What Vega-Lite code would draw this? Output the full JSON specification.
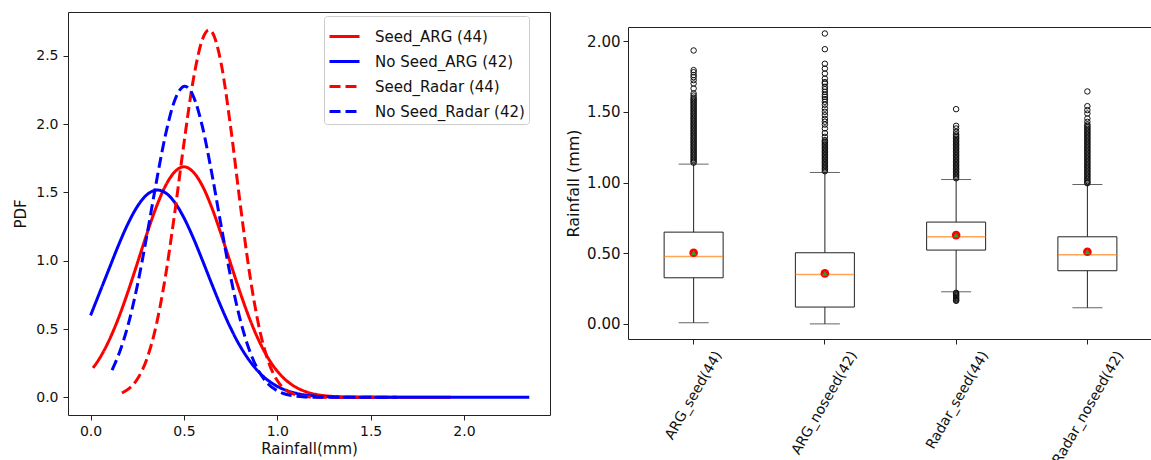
{
  "$schema": "https://vega.github.io/schema/vega-lite/v6.json",
  "padding": {"left": 13, "top": 11, "right": -1, "bottom": 0},
  "config": {
    "font": "DejaVu Sans",
    "view": {"stroke": "#222", "strokeWidth": 1},
    "axis": {"grid": false, "domain": false, "tickColor": "#222", "tickSize": 5, "labelColor": "#111", "titleColor": "#111", "titleFontWeight": "normal", "labelFont": "DejaVu Sans", "titleFont": "DejaVu Sans"}
  },
  "datasets": {
    "pdf": [
      {"s": "Seed_ARG (44)", "x": 0.013, "y": 0.215}, {"s": "Seed_ARG (44)", "x": 0.05, "y": 0.29}, {"s": "Seed_ARG (44)", "x": 0.1, "y": 0.42}, {"s": "Seed_ARG (44)", "x": 0.15, "y": 0.582}, {"s": "Seed_ARG (44)", "x": 0.2, "y": 0.772}, {"s": "Seed_ARG (44)", "x": 0.25, "y": 0.98}, {"s": "Seed_ARG (44)", "x": 0.3, "y": 1.191}, {"s": "Seed_ARG (44)", "x": 0.35, "y": 1.386}, {"s": "Seed_ARG (44)", "x": 0.4, "y": 1.545}, {"s": "Seed_ARG (44)", "x": 0.45, "y": 1.649}, {"s": "Seed_ARG (44)", "x": 0.5, "y": 1.687}, {"s": "Seed_ARG (44)", "x": 0.55, "y": 1.649}, {"s": "Seed_ARG (44)", "x": 0.6, "y": 1.545}, {"s": "Seed_ARG (44)", "x": 0.65, "y": 1.386}, {"s": "Seed_ARG (44)", "x": 0.7, "y": 1.191}, {"s": "Seed_ARG (44)", "x": 0.75, "y": 0.98}, {"s": "Seed_ARG (44)", "x": 0.8, "y": 0.772}, {"s": "Seed_ARG (44)", "x": 0.85, "y": 0.582}, {"s": "Seed_ARG (44)", "x": 0.9, "y": 0.42}, {"s": "Seed_ARG (44)", "x": 0.95, "y": 0.29}, {"s": "Seed_ARG (44)", "x": 1.0, "y": 0.192}, {"s": "Seed_ARG (44)", "x": 1.05, "y": 0.122}, {"s": "Seed_ARG (44)", "x": 1.1, "y": 0.074}, {"s": "Seed_ARG (44)", "x": 1.15, "y": 0.043}, {"s": "Seed_ARG (44)", "x": 1.2, "y": 0.024}, {"s": "Seed_ARG (44)", "x": 1.3, "y": 0.0065}, {"s": "Seed_ARG (44)", "x": 1.4, "y": 0.0015}, {"s": "Seed_ARG (44)", "x": 1.5, "y": 0.0002}, {"s": "Seed_ARG (44)", "x": 1.7, "y": 0}, {"s": "Seed_ARG (44)", "x": 1.93, "y": 0},
      {"s": "No Seed_ARG (42)", "x": 0.0, "y": 0.6}, {"s": "No Seed_ARG (42)", "x": 0.05, "y": 0.772}, {"s": "No Seed_ARG (42)", "x": 0.1, "y": 0.944}, {"s": "No Seed_ARG (42)", "x": 0.15, "y": 1.115}, {"s": "No Seed_ARG (42)", "x": 0.2, "y": 1.27}, {"s": "No Seed_ARG (42)", "x": 0.25, "y": 1.396}, {"s": "No Seed_ARG (42)", "x": 0.3, "y": 1.481}, {"s": "No Seed_ARG (42)", "x": 0.358, "y": 1.517}, {"s": "No Seed_ARG (42)", "x": 0.4, "y": 1.498}, {"s": "No Seed_ARG (42)", "x": 0.45, "y": 1.428}, {"s": "No Seed_ARG (42)", "x": 0.5, "y": 1.314}, {"s": "No Seed_ARG (42)", "x": 0.55, "y": 1.167}, {"s": "No Seed_ARG (42)", "x": 0.6, "y": 1.0}, {"s": "No Seed_ARG (42)", "x": 0.65, "y": 0.827}, {"s": "No Seed_ARG (42)", "x": 0.7, "y": 0.66}, {"s": "No Seed_ARG (42)", "x": 0.75, "y": 0.508}, {"s": "No Seed_ARG (42)", "x": 0.8, "y": 0.377}, {"s": "No Seed_ARG (42)", "x": 0.85, "y": 0.271}, {"s": "No Seed_ARG (42)", "x": 0.9, "y": 0.187}, {"s": "No Seed_ARG (42)", "x": 0.95, "y": 0.125}, {"s": "No Seed_ARG (42)", "x": 1.0, "y": 0.0806}, {"s": "No Seed_ARG (42)", "x": 1.05, "y": 0.0502}, {"s": "No Seed_ARG (42)", "x": 1.1, "y": 0.0301}, {"s": "No Seed_ARG (42)", "x": 1.15, "y": 0.0174}, {"s": "No Seed_ARG (42)", "x": 1.2, "y": 0.0097}, {"s": "No Seed_ARG (42)", "x": 1.3, "y": 0.0027}, {"s": "No Seed_ARG (42)", "x": 1.4, "y": 0.0007}, {"s": "No Seed_ARG (42)", "x": 1.5, "y": 0.0001}, {"s": "No Seed_ARG (42)", "x": 1.75, "y": 0}, {"s": "No Seed_ARG (42)", "x": 2.0, "y": 0}, {"s": "No Seed_ARG (42)", "x": 2.35, "y": 0},
      {"s": "Seed_Radar (44)", "x": 0.168, "y": 0.032}, {"s": "Seed_Radar (44)", "x": 0.2, "y": 0.058}, {"s": "Seed_Radar (44)", "x": 0.25, "y": 0.133}, {"s": "Seed_Radar (44)", "x": 0.3, "y": 0.276}, {"s": "Seed_Radar (44)", "x": 0.35, "y": 0.518}, {"s": "Seed_Radar (44)", "x": 0.4, "y": 0.877}, {"s": "Seed_Radar (44)", "x": 0.45, "y": 1.343}, {"s": "Seed_Radar (44)", "x": 0.5, "y": 1.858}, {"s": "Seed_Radar (44)", "x": 0.55, "y": 2.323}, {"s": "Seed_Radar (44)", "x": 0.6, "y": 2.623}, {"s": "Seed_Radar (44)", "x": 0.635, "y": 2.689}, {"s": "Seed_Radar (44)", "x": 0.65, "y": 2.675}, {"s": "Seed_Radar (44)", "x": 0.7, "y": 2.439}, {"s": "Seed_Radar (44)", "x": 0.75, "y": 1.98}, {"s": "Seed_Radar (44)", "x": 0.8, "y": 1.432}, {"s": "Seed_Radar (44)", "x": 0.85, "y": 0.923}, {"s": "Seed_Radar (44)", "x": 0.9, "y": 0.53}, {"s": "Seed_Radar (44)", "x": 0.95, "y": 0.271}, {"s": "Seed_Radar (44)", "x": 1.0, "y": 0.123}, {"s": "Seed_Radar (44)", "x": 1.05, "y": 0.05}, {"s": "Seed_Radar (44)", "x": 1.1, "y": 0.018}, {"s": "Seed_Radar (44)", "x": 1.15, "y": 0.0058}, {"s": "Seed_Radar (44)", "x": 1.2, "y": 0.0017}, {"s": "Seed_Radar (44)", "x": 1.3, "y": 0.0001}, {"s": "Seed_Radar (44)", "x": 1.4, "y": 0}, {"s": "Seed_Radar (44)", "x": 1.52, "y": 0},
      {"s": "No Seed_Radar (42)", "x": 0.115, "y": 0.2}, {"s": "No Seed_Radar (42)", "x": 0.15, "y": 0.312}, {"s": "No Seed_Radar (42)", "x": 0.2, "y": 0.525}, {"s": "No Seed_Radar (42)", "x": 0.25, "y": 0.816}, {"s": "No Seed_Radar (42)", "x": 0.3, "y": 1.173}, {"s": "No Seed_Radar (42)", "x": 0.35, "y": 1.559}, {"s": "No Seed_Radar (42)", "x": 0.4, "y": 1.913}, {"s": "No Seed_Radar (42)", "x": 0.45, "y": 2.171}, {"s": "No Seed_Radar (42)", "x": 0.505, "y": 2.277}, {"s": "No Seed_Radar (42)", "x": 0.55, "y": 2.205}, {"s": "No Seed_Radar (42)", "x": 0.6, "y": 1.975}, {"s": "No Seed_Radar (42)", "x": 0.65, "y": 1.634}, {"s": "No Seed_Radar (42)", "x": 0.7, "y": 1.25}, {"s": "No Seed_Radar (42)", "x": 0.75, "y": 0.883}, {"s": "No Seed_Radar (42)", "x": 0.8, "y": 0.577}, {"s": "No Seed_Radar (42)", "x": 0.85, "y": 0.348}, {"s": "No Seed_Radar (42)", "x": 0.9, "y": 0.194}, {"s": "No Seed_Radar (42)", "x": 0.95, "y": 0.1}, {"s": "No Seed_Radar (42)", "x": 1.0, "y": 0.048}, {"s": "No Seed_Radar (42)", "x": 1.05, "y": 0.021}, {"s": "No Seed_Radar (42)", "x": 1.1, "y": 0.0085}, {"s": "No Seed_Radar (42)", "x": 1.15, "y": 0.0032}, {"s": "No Seed_Radar (42)", "x": 1.2, "y": 0.0011}, {"s": "No Seed_Radar (42)", "x": 1.3, "y": 0.0001}, {"s": "No Seed_Radar (42)", "x": 1.45, "y": 0}, {"s": "No Seed_Radar (42)", "x": 1.64, "y": 0}
    ],
    "box": [
      {"cat": "ARG_seed(44)", "lower": 0.008, "q1": 0.326, "median": 0.477, "q3": 0.649, "upper": 1.13, "mean": 0.503},
      {"cat": "ARG_noseed(42)", "lower": 0.0, "q1": 0.119, "median": 0.35, "q3": 0.503, "upper": 1.071, "mean": 0.357},
      {"cat": "Radar_seed(44)", "lower": 0.227, "q1": 0.522, "median": 0.616, "q3": 0.72, "upper": 1.021, "mean": 0.628},
      {"cat": "Radar_noseed(42)", "lower": 0.114, "q1": 0.376, "median": 0.489, "q3": 0.616, "upper": 0.986, "mean": 0.51}
    ],
    "out": [
      {"cat": "ARG_seed(44)", "v": 1.14}, {"cat": "ARG_seed(44)", "v": 1.15}, {"cat": "ARG_seed(44)", "v": 1.16}, {"cat": "ARG_seed(44)", "v": 1.17}, {"cat": "ARG_seed(44)", "v": 1.18}, {"cat": "ARG_seed(44)", "v": 1.19}, {"cat": "ARG_seed(44)", "v": 1.2}, {"cat": "ARG_seed(44)", "v": 1.21}, {"cat": "ARG_seed(44)", "v": 1.22}, {"cat": "ARG_seed(44)", "v": 1.23}, {"cat": "ARG_seed(44)", "v": 1.24}, {"cat": "ARG_seed(44)", "v": 1.25}, {"cat": "ARG_seed(44)", "v": 1.26}, {"cat": "ARG_seed(44)", "v": 1.27}, {"cat": "ARG_seed(44)", "v": 1.28}, {"cat": "ARG_seed(44)", "v": 1.29}, {"cat": "ARG_seed(44)", "v": 1.3}, {"cat": "ARG_seed(44)", "v": 1.31}, {"cat": "ARG_seed(44)", "v": 1.32}, {"cat": "ARG_seed(44)", "v": 1.33}, {"cat": "ARG_seed(44)", "v": 1.34}, {"cat": "ARG_seed(44)", "v": 1.35}, {"cat": "ARG_seed(44)", "v": 1.36}, {"cat": "ARG_seed(44)", "v": 1.37}, {"cat": "ARG_seed(44)", "v": 1.38}, {"cat": "ARG_seed(44)", "v": 1.39}, {"cat": "ARG_seed(44)", "v": 1.4}, {"cat": "ARG_seed(44)", "v": 1.41}, {"cat": "ARG_seed(44)", "v": 1.42}, {"cat": "ARG_seed(44)", "v": 1.43}, {"cat": "ARG_seed(44)", "v": 1.44}, {"cat": "ARG_seed(44)", "v": 1.45}, {"cat": "ARG_seed(44)", "v": 1.46}, {"cat": "ARG_seed(44)", "v": 1.47}, {"cat": "ARG_seed(44)", "v": 1.48}, {"cat": "ARG_seed(44)", "v": 1.49}, {"cat": "ARG_seed(44)", "v": 1.5}, {"cat": "ARG_seed(44)", "v": 1.51}, {"cat": "ARG_seed(44)", "v": 1.52}, {"cat": "ARG_seed(44)", "v": 1.53}, {"cat": "ARG_seed(44)", "v": 1.54}, {"cat": "ARG_seed(44)", "v": 1.55}, {"cat": "ARG_seed(44)", "v": 1.56}, {"cat": "ARG_seed(44)", "v": 1.57}, {"cat": "ARG_seed(44)", "v": 1.58}, {"cat": "ARG_seed(44)", "v": 1.59}, {"cat": "ARG_seed(44)", "v": 1.6}, {"cat": "ARG_seed(44)", "v": 1.615}, {"cat": "ARG_seed(44)", "v": 1.63}, {"cat": "ARG_seed(44)", "v": 1.665}, {"cat": "ARG_seed(44)", "v": 1.7}, {"cat": "ARG_seed(44)", "v": 1.724}, {"cat": "ARG_seed(44)", "v": 1.745}, {"cat": "ARG_seed(44)", "v": 1.76}, {"cat": "ARG_seed(44)", "v": 1.78}, {"cat": "ARG_seed(44)", "v": 1.795}, {"cat": "ARG_seed(44)", "v": 1.934},
      {"cat": "ARG_noseed(42)", "v": 1.08}, {"cat": "ARG_noseed(42)", "v": 1.09}, {"cat": "ARG_noseed(42)", "v": 1.1}, {"cat": "ARG_noseed(42)", "v": 1.11}, {"cat": "ARG_noseed(42)", "v": 1.12}, {"cat": "ARG_noseed(42)", "v": 1.13}, {"cat": "ARG_noseed(42)", "v": 1.14}, {"cat": "ARG_noseed(42)", "v": 1.15}, {"cat": "ARG_noseed(42)", "v": 1.16}, {"cat": "ARG_noseed(42)", "v": 1.17}, {"cat": "ARG_noseed(42)", "v": 1.18}, {"cat": "ARG_noseed(42)", "v": 1.19}, {"cat": "ARG_noseed(42)", "v": 1.2}, {"cat": "ARG_noseed(42)", "v": 1.21}, {"cat": "ARG_noseed(42)", "v": 1.22}, {"cat": "ARG_noseed(42)", "v": 1.23}, {"cat": "ARG_noseed(42)", "v": 1.24}, {"cat": "ARG_noseed(42)", "v": 1.25}, {"cat": "ARG_noseed(42)", "v": 1.26}, {"cat": "ARG_noseed(42)", "v": 1.27}, {"cat": "ARG_noseed(42)", "v": 1.28}, {"cat": "ARG_noseed(42)", "v": 1.29}, {"cat": "ARG_noseed(42)", "v": 1.3}, {"cat": "ARG_noseed(42)", "v": 1.323}, {"cat": "ARG_noseed(42)", "v": 1.35}, {"cat": "ARG_noseed(42)", "v": 1.382}, {"cat": "ARG_noseed(42)", "v": 1.41}, {"cat": "ARG_noseed(42)", "v": 1.43}, {"cat": "ARG_noseed(42)", "v": 1.45}, {"cat": "ARG_noseed(42)", "v": 1.476}, {"cat": "ARG_noseed(42)", "v": 1.5}, {"cat": "ARG_noseed(42)", "v": 1.523}, {"cat": "ARG_noseed(42)", "v": 1.55}, {"cat": "ARG_noseed(42)", "v": 1.571}, {"cat": "ARG_noseed(42)", "v": 1.59}, {"cat": "ARG_noseed(42)", "v": 1.606}, {"cat": "ARG_noseed(42)", "v": 1.62}, {"cat": "ARG_noseed(42)", "v": 1.641}, {"cat": "ARG_noseed(42)", "v": 1.66}, {"cat": "ARG_noseed(42)", "v": 1.677}, {"cat": "ARG_noseed(42)", "v": 1.7}, {"cat": "ARG_noseed(42)", "v": 1.71}, {"cat": "ARG_noseed(42)", "v": 1.735}, {"cat": "ARG_noseed(42)", "v": 1.771}, {"cat": "ARG_noseed(42)", "v": 1.806}, {"cat": "ARG_noseed(42)", "v": 1.84}, {"cat": "ARG_noseed(42)", "v": 1.943}, {"cat": "ARG_noseed(42)", "v": 2.054},
      {"cat": "Radar_seed(44)", "v": 1.03}, {"cat": "Radar_seed(44)", "v": 1.04}, {"cat": "Radar_seed(44)", "v": 1.05}, {"cat": "Radar_seed(44)", "v": 1.06}, {"cat": "Radar_seed(44)", "v": 1.07}, {"cat": "Radar_seed(44)", "v": 1.08}, {"cat": "Radar_seed(44)", "v": 1.09}, {"cat": "Radar_seed(44)", "v": 1.1}, {"cat": "Radar_seed(44)", "v": 1.11}, {"cat": "Radar_seed(44)", "v": 1.12}, {"cat": "Radar_seed(44)", "v": 1.13}, {"cat": "Radar_seed(44)", "v": 1.14}, {"cat": "Radar_seed(44)", "v": 1.15}, {"cat": "Radar_seed(44)", "v": 1.16}, {"cat": "Radar_seed(44)", "v": 1.17}, {"cat": "Radar_seed(44)", "v": 1.18}, {"cat": "Radar_seed(44)", "v": 1.19}, {"cat": "Radar_seed(44)", "v": 1.2}, {"cat": "Radar_seed(44)", "v": 1.21}, {"cat": "Radar_seed(44)", "v": 1.22}, {"cat": "Radar_seed(44)", "v": 1.23}, {"cat": "Radar_seed(44)", "v": 1.24}, {"cat": "Radar_seed(44)", "v": 1.25}, {"cat": "Radar_seed(44)", "v": 1.26}, {"cat": "Radar_seed(44)", "v": 1.27}, {"cat": "Radar_seed(44)", "v": 1.28}, {"cat": "Radar_seed(44)", "v": 1.29}, {"cat": "Radar_seed(44)", "v": 1.3}, {"cat": "Radar_seed(44)", "v": 1.31}, {"cat": "Radar_seed(44)", "v": 1.32}, {"cat": "Radar_seed(44)", "v": 1.33}, {"cat": "Radar_seed(44)", "v": 1.34}, {"cat": "Radar_seed(44)", "v": 1.358}, {"cat": "Radar_seed(44)", "v": 1.382}, {"cat": "Radar_seed(44)", "v": 1.401}, {"cat": "Radar_seed(44)", "v": 1.519}, {"cat": "Radar_seed(44)", "v": 0.22}, {"cat": "Radar_seed(44)", "v": 0.213}, {"cat": "Radar_seed(44)", "v": 0.205}, {"cat": "Radar_seed(44)", "v": 0.198}, {"cat": "Radar_seed(44)", "v": 0.19}, {"cat": "Radar_seed(44)", "v": 0.183}, {"cat": "Radar_seed(44)", "v": 0.175}, {"cat": "Radar_seed(44)", "v": 0.168}, {"cat": "Radar_seed(44)", "v": 0.163},
      {"cat": "Radar_noseed(42)", "v": 0.995}, {"cat": "Radar_noseed(42)", "v": 1.0}, {"cat": "Radar_noseed(42)", "v": 1.01}, {"cat": "Radar_noseed(42)", "v": 1.02}, {"cat": "Radar_noseed(42)", "v": 1.03}, {"cat": "Radar_noseed(42)", "v": 1.04}, {"cat": "Radar_noseed(42)", "v": 1.05}, {"cat": "Radar_noseed(42)", "v": 1.06}, {"cat": "Radar_noseed(42)", "v": 1.07}, {"cat": "Radar_noseed(42)", "v": 1.08}, {"cat": "Radar_noseed(42)", "v": 1.09}, {"cat": "Radar_noseed(42)", "v": 1.1}, {"cat": "Radar_noseed(42)", "v": 1.11}, {"cat": "Radar_noseed(42)", "v": 1.12}, {"cat": "Radar_noseed(42)", "v": 1.13}, {"cat": "Radar_noseed(42)", "v": 1.14}, {"cat": "Radar_noseed(42)", "v": 1.15}, {"cat": "Radar_noseed(42)", "v": 1.16}, {"cat": "Radar_noseed(42)", "v": 1.17}, {"cat": "Radar_noseed(42)", "v": 1.18}, {"cat": "Radar_noseed(42)", "v": 1.19}, {"cat": "Radar_noseed(42)", "v": 1.2}, {"cat": "Radar_noseed(42)", "v": 1.21}, {"cat": "Radar_noseed(42)", "v": 1.22}, {"cat": "Radar_noseed(42)", "v": 1.23}, {"cat": "Radar_noseed(42)", "v": 1.24}, {"cat": "Radar_noseed(42)", "v": 1.25}, {"cat": "Radar_noseed(42)", "v": 1.26}, {"cat": "Radar_noseed(42)", "v": 1.27}, {"cat": "Radar_noseed(42)", "v": 1.28}, {"cat": "Radar_noseed(42)", "v": 1.29}, {"cat": "Radar_noseed(42)", "v": 1.3}, {"cat": "Radar_noseed(42)", "v": 1.31}, {"cat": "Radar_noseed(42)", "v": 1.32}, {"cat": "Radar_noseed(42)", "v": 1.33}, {"cat": "Radar_noseed(42)", "v": 1.34}, {"cat": "Radar_noseed(42)", "v": 1.35}, {"cat": "Radar_noseed(42)", "v": 1.36}, {"cat": "Radar_noseed(42)", "v": 1.37}, {"cat": "Radar_noseed(42)", "v": 1.38}, {"cat": "Radar_noseed(42)", "v": 1.39}, {"cat": "Radar_noseed(42)", "v": 1.4}, {"cat": "Radar_noseed(42)", "v": 1.41}, {"cat": "Radar_noseed(42)", "v": 1.429}, {"cat": "Radar_noseed(42)", "v": 1.453}, {"cat": "Radar_noseed(42)", "v": 1.488}, {"cat": "Radar_noseed(42)", "v": 1.512}, {"cat": "Radar_noseed(42)", "v": 1.54}, {"cat": "Radar_noseed(42)", "v": 1.644}
    ]
  },
  "spacing": 14,
  "hconcat": [
    {
      "width": 482,
      "height": 403,
      "data": {"name": "pdf"},
      "mark": {"type": "line", "strokeWidth": 3, "clip": true, "interpolate": "monotone"},
      "encoding": {
        "x": {"field": "x", "type": "quantitative", "scale": {"domain": [-0.121, 2.461], "nice": false, "zero": false},
          "axis": {"values": [0, 0.5, 1, 1.5, 2], "format": ".1f", "title": "Rainfall(mm)", "labelFontSize": 14, "titleFontSize": 15, "labelPadding": 4, "titlePadding": 3}},
        "y": {"field": "y", "type": "quantitative", "scale": {"domain": [-0.129, 2.82], "nice": false, "zero": false},
          "axis": {"values": [0, 0.5, 1, 1.5, 2, 2.5], "format": ".1f", "title": "PDF", "labelFontSize": 14, "titleFontSize": 15, "labelPadding": 5, "titlePadding": 7}},
        "color": {"field": "s", "type": "nominal",
          "scale": {"domain": ["Seed_ARG (44)", "No Seed_ARG (42)", "Seed_Radar (44)", "No Seed_Radar (42)"], "range": ["#ff0000", "#0000ff", "#ff0000", "#0000ff"]},
          "legend": {"title": null, "orient": "none", "legendX": 256, "legendY": 4, "symbolType": "stroke", "symbolSize": 900, "symbolStrokeWidth": 3, "labelFontSize": 15, "labelOffset": 14, "padding": 4, "fillColor": "white", "strokeColor": "#ccc", "cornerRadius": 3, "rowPadding": 0, "labelColor": "#111"}},
        "strokeDash": {"field": "s", "type": "nominal",
          "scale": {"domain": ["Seed_ARG (44)", "No Seed_ARG (42)", "Seed_Radar (44)", "No Seed_Radar (42)"], "range": [[1, 0], [1, 0], [11, 5], [11, 5]]},
          "legend": {"title": null, "orient": "none", "legendX": 256, "legendY": 4, "symbolType": "stroke", "symbolSize": 900, "symbolStrokeWidth": 3, "labelFontSize": 15, "labelOffset": 14, "padding": 4, "fillColor": "white", "strokeColor": "#ccc", "cornerRadius": 3, "rowPadding": 0, "labelColor": "#111"}}
      }
    },
    {
      "spacing": 13,
      "vconcat": [
        {
          "width": 525,
          "height": 1,
          "view": {"stroke": null},
          "data": {"values": []},
          "mark": {"type": "point"},
          "encoding": {}
        },
        {
          "width": 525,
          "height": 312,
          "encoding": {
            "x": {"field": "cat", "type": "nominal", "sort": null,
              "scale": {"domain": ["ARG_seed(44)", "ARG_noseed(42)", "Radar_seed(44)", "Radar_noseed(42)"], "paddingInner": 0, "paddingOuter": 0},
              "axis": {"title": null, "labelAngle": -60, "labelAlign": "right", "labelBaseline": "middle", "labelFontSize": 14, "labelPadding": 8,
                "labelOffset": {"condition": [{"test": "datum.value == 'ARG_seed(44)'", "value": 25}, {"test": "datum.value == 'ARG_noseed(42)'", "value": 29}, {"test": "datum.value == 'Radar_seed(44)'", "value": 29}], "value": 33}}}
          },
          "layer": [
            {"data": {"name": "box"}, "mark": {"type": "rule", "color": "#222", "strokeWidth": 1},
              "encoding": {
                "y": {"field": "lower", "type": "quantitative", "scale": {"domain": [-0.107, 2.1], "nice": false, "zero": false},
                  "axis": {"values": [0, 0.25, 0.5, 0.75, 1, 1.25, 1.5, 1.75, 2], "format": ".2f", "title": "Rainfall (mm)", "labelFontSize": 15, "titleFontSize": 16, "labelPadding": 3, "titlePadding": 5}},
                "y2": {"field": "upper"}}},
            {"data": {"name": "box"}, "mark": {"type": "tick", "color": "#222", "size": 30, "thickness": 1},
              "encoding": {"y": {"field": "lower", "type": "quantitative"}}},
            {"data": {"name": "box"}, "mark": {"type": "tick", "color": "#222", "size": 30, "thickness": 1},
              "encoding": {"y": {"field": "upper", "type": "quantitative"}}},
            {"data": {"name": "box"}, "mark": {"type": "bar", "fill": "white", "stroke": "#222", "strokeWidth": 1, "size": 59},
              "encoding": {"y": {"field": "q1", "type": "quantitative"}, "y2": {"field": "q3"}}},
            {"data": {"name": "box"}, "mark": {"type": "tick", "color": "#ff7f0e", "size": 59, "thickness": 1.5},
              "encoding": {"y": {"field": "median", "type": "quantitative"}}},
            {"data": {"name": "out"}, "mark": {"type": "point", "shape": "circle", "filled": false, "stroke": "#111", "strokeWidth": 1, "size": 30, "opacity": 1},
              "encoding": {"y": {"field": "v", "type": "quantitative"}}},
            {"data": {"name": "box"}, "mark": {"type": "point", "shape": "circle", "filled": true, "color": "#ff0000", "size": 75, "opacity": 1},
              "encoding": {"y": {"field": "mean", "type": "quantitative"}}},
            {"data": {"name": "box"}, "mark": {"type": "point", "shape": "triangle-up", "filled": true, "color": "#2ca02c", "size": 32, "opacity": 1},
              "encoding": {"y": {"field": "mean", "type": "quantitative"}}}
          ]
        }
      ]
    }
  ]
}
